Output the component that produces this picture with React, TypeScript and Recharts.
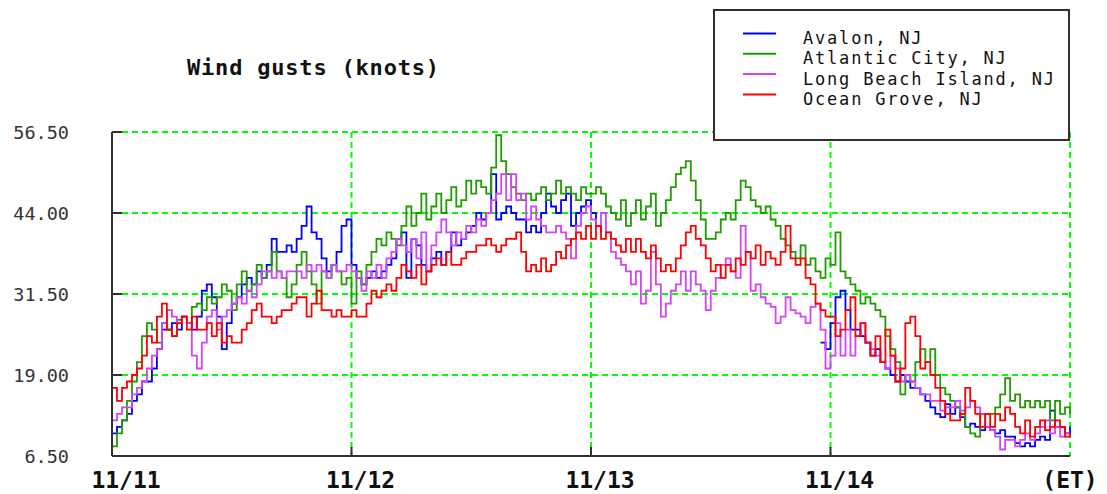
import { LineChart, Line, XAxis, YAxis, CartesianGrid, Legend } from 'recharts'

// half-hourly gusts, 11/11 00:00 -> 11/15 00:00 (ET)
const STEP_HOURS = 0.5

const avalon = [
  10, 11, 12, 13, 15, 16, 18, 18, 20, 23, 26, 26,
  27, 26, 28, 27, 26, 28, 32, 33, 31, 28, 23, 27,
  30, 31, 33, 34, 33, 35, 34, 36, 40, 38, 38, 39,
  38, 40, 42, 45, 41, 40, 37, 35, 36, 38, 42, 43,
  36, 34, 33, 34, 35, 34, 35, 36, 37, 40, 41, 34,
  40, 39, 36, 35, 37, 38, 36, 38, 41, 39, 40, 41,
  42, 44, 43, 44, 50, 43, 44, 45, 44, 43, 43, 41,
  42, 41, 44, 47, 45, 44, 46, 47, 42, 44, 45, 46,
  44, 42, 41, null, null, null, null, null, null, null, null, null,
  null, null, null, null, null, null, null, null, null, null, null, null,
  null, null, null, null, null, null, null, null, null, null, null, null,
  null, null, null, null, null, null, null, null, null, null, 24, 23,
  27, 31, 32, 29, 26, 26, 25, 24, 22, 23, 21, 20,
  19, 18, 19, 18, 17, 17, 16, 15, 14, 13, 12.5, 14.5,
  13, 14, 12.5, 11, 11.5, 11, 10.5, 11, 10.5, 10, 10.5, 9.5,
  9.5, 8.5, 8, 8.5, 8, 9, 9.5, 9, 13.5, 11, 11, 10,
  11,
]

const atlanticCity = [
  8, 10, 12, 15, 18, 21, 25, 27, 26, 24, 27, 26,
  25, 27.5, 28, 27, 29.5, 30, 29, 31, 30, 31, 33, 32,
  29, 33, 35, 32, 33, 36, 34, 35, 38, 35, 34, 31,
  33, 36, 38, 35, 33, 30, 35, 34, 36, 35, 33, 34,
  30, 35, 33, 36, 38, 40, 39, 41, 40, 39, 42, 45,
  42, 44, 47, 43, 45, 47, 44, 46, 48, 45, 46, 49,
  47, 49, 48, 47, 51, 56, 52, 50, 48, 47, 46, 47,
  46, 47, 48, 46, 47, 49, 47, 48, 47, 46, 48, 47,
  47, 48, 47, 45, 44, 43, 46, 42, 44, 46, 43, 45,
  47, 42, 44, 46, 48, 50, 51, 52, 49, 46, 43, 40,
  40, 41, 43, 44, 43, 46, 49, 48, 46, 45, 44, 45,
  43, 42, 40, 39, 38, 37, 39, 36, 37, 35, 34, 37,
  36, 41, 35, 34, 33, 32, 30, 31, 30, 29, 28, 25,
  23, 21, 16, 19, 18, 21, 23, 21, 23, 19, 17, 16,
  15, 14, 13, 11, 10, 9.5, 13, 13, 13, 14, 16, 18.5,
  15, 16, 14, 15, 14, 15, 14, 15, 12, 15, 13, 14,
  13,
]

const longBeachIsland = [
  12, 13, 14, 14, 16, 17, 18, 20, 22, 23, 27, 29,
  28, 27, 28, 27, 22, 20, 24, 28, 29, 26, 28, 29,
  30, 31, 30, 32, 31, 33, 35, 35, 34, 35, 34, 35,
  35, 35, 34, 36, 35, 36, 35, 34, 36, 35, 35, 36,
  35, 34, 32, 35, 34, 36, 34, 37, 38, 40, 39, 38,
  40, 37, 41, 35, 39, 41, 43, 41, 39, 41, 40, 42,
  41, 43, 42, 44, 46, 47, 50, 46, 50, 46, 47, 43,
  45, 43, 42, 41, 41, 42, 41, 40, 37, 42, 44, 45,
  43, 42, 44, 41, 38, 37, 36, 35, 33, 35, 30, 32,
  38, 33, 28, 30, 32, 33, 35, 32, 35, 33, 32, 29,
  32, 34, 36, 37, 35, 34, 42, 38, 32, 33, 31, 30,
  29.5, 27, 28, 31, 29, 28.5, 28, 27, 29.5, 30, 26, 20,
  22, 27, 22, 26, 22, 25, 27, 24, 23, 22, 21, 20,
  22, 20, 18, 19, 18, 17, 16, 16, 15, 15, 13.5, 14,
  14, 15, 13.5, 14, 15, 14, 13, 11, 10.5, 9.5, 7.5, 9,
  9, 8, 9, 10, 9, 10, 11, 12, 10, 11, 9.5, 10,
  10,
]

const oceanGrove = [
  17, 15, 17, 18, 19, 20, 22, 25, 24, 28, 30, 26,
  25, 27, 28, 26, 28, 26, 26, 27, 25, 27, 24, 25,
  24, 24, 26, 27, 29, 30, 28, 28, 27, 28, 29, 29,
  30, 31, 31, 28, 30, 32, 29, 29, 28, 29, 28, 28,
  29, 28, 28, 30, 32, 31, 32, 33, 32, 34, 36, 35,
  34, 36, 33, 35, 36, 37, 36, 38, 36, 36, 37, 38,
  38, 39, 39, 40, 39, 38, 39, 40, 40, 41, 38, 35,
  36, 35, 37, 35, 36, 38, 37, 39, 40, 41, 40, 42,
  40, 42, 40, 41, 40, 39, 38, 40, 38, 40, 38, 37,
  39, 37, 35, 36, 35, 37, 39, 41, 42, 40, 39, 37,
  35, 36, 34, 36, 35, 37, 36, 38, 37, 39, 36, 38,
  37, 36, 38, 42, 37, 36, 37, 34, 33, 30, 29, 28,
  28, 25, 26, 29, 31, 25, 27, 24, 22, 25, 21, 26,
  22, 18, 20, 27, 28, 25, 20, 21, 19, 17, 15, 13,
  12, 12, 13, 17, 15, 13, 11, 13, 11, 13, 12, 14,
  13, 11, 10, 12, 9.5, 11, 12, 10.5, 11, 12, 11, 9.5,
  10,
]

const xTicks = [0, 24, 48, 72, 96]
const xTickLabels = ['11/11', '11/12', '11/13', '11/14', '(ET)']
const yTicks = [6.5, 19, 31.5, 44, 56.5]

const series = [
  { key: 'avalon', name: 'Avalon, NJ', color: '#0000ff' },
  { key: 'atlantic', name: 'Atlantic City, NJ', color: '#1f9c00' },
  { key: 'lbi', name: 'Long Beach Island, NJ', color: '#d443f5' },
  { key: 'ocean', name: 'Ocean Grove, NJ', color: '#ff0000' },
]

const data = atlanticCity.map((_, i) => ({
  t: i * STEP_HOURS,
  avalon: avalon[i],
  atlantic: atlanticCity[i],
  lbi: longBeachIsland[i],
  ocean: oceanGrove[i],
}))

const MONO = '"DejaVu Sans Mono", monospace'
const AXIS = '#303030'

function YTick({ x, y, payload }: any) {
  return (
    <g>
      <line x1={x} x2={x + 10} y1={y} y2={y} stroke={AXIS} strokeWidth={2} />
      <text x={x - 43} y={y + 6.5} textAnchor="end" fontFamily={MONO} fontSize={18.5} fill="#333">
        {Number(payload.value).toFixed(2)}
      </text>
    </g>
  )
}

function XTick({ x, y, payload, index }: any) {
  const dx = index === 0 ? 14 : index === 4 ? 0 : 9
  return (
    <g>
      {index > 0 && index < 4 && (
        <line x1={x} x2={x} y1={y - 9} y2={y} stroke={AXIS} strokeWidth={2} />
      )}
      <text x={x + dx} y={y + 32} textAnchor="middle" fontFamily={MONO} fontWeight="bold" fontSize={23} fill="#111">
        {xTickLabels[xTicks.indexOf(payload.value)]}
      </text>
    </g>
  )
}

function LegendBox() {
  return (
    <svg width={357} height={132} style={{ display: 'block' }}>
      <rect x={1} y={1} width={355} height={130} fill="#fff" stroke={AXIS} strokeWidth={2} />
      {series.map((s, i) => (
        <g key={s.key}>
          <line x1={30} x2={63} y1={24.5 + i * 20.3} y2={24.5 + i * 20.3} stroke={s.color} strokeWidth={2} />
          <text x={90} y={35 + i * 20.3} fontFamily={MONO} fontSize={17} letterSpacing={1.8} fill="#111">
            {s.name}
          </text>
        </g>
      ))}
    </svg>
  )
}

export default function App() {
  return (
    <div style={{ position: 'relative', width: 1107, height: 494, background: '#fff' }}>
      <style>{'body{margin:0}'}</style>
      <div
        style={{
          position: 'absolute', left: 187, top: 57, fontFamily: MONO, fontWeight: 'bold',
          fontSize: 22, letterSpacing: 0.8, lineHeight: '22px', color: '#111', whiteSpace: 'pre',
        }}
      >
        Wind gusts (knots)
      </div>
      <LineChart width={1107} height={494} data={data} margin={{ top: 132, right: 37, bottom: 0, left: 0 }}>
        <CartesianGrid stroke="#00ff00" strokeWidth={2} strokeDasharray="6 4" />
        <XAxis
          dataKey="t"
          type="number"
          domain={[0, 96]}
          ticks={xTicks}
          height={38}
          interval={0}
          tickSize={0}
          tickMargin={0}
          tickLine={false}
          axisLine={{ stroke: AXIS, strokeWidth: 2 }}
          tick={<XTick />}
        />
        <YAxis
          type="number"
          domain={[6.5, 56.5]}
          ticks={yTicks}
          width={112}
          interval={0}
          tickSize={0}
          tickMargin={0}
          tickLine={false}
          axisLine={{ stroke: AXIS, strokeWidth: 2 }}
          tick={<YTick />}
        />
        {series.map((s) => (
          <Line
            key={s.key}
            dataKey={s.key}
            name={s.name}
            type="stepAfter"
            stroke={s.color}
            strokeWidth={1.8}
            dot={false}
            activeDot={false}
            connectNulls={false}
            isAnimationActive={false}
          />
        ))}
        <Legend
          layout="horizontal"
          verticalAlign="middle"
          align="center"
          wrapperStyle={{ position: 'absolute', left: 713, top: 9, width: 357, height: 132 }}
          content={() => <LegendBox />}
        />
      </LineChart>
    </div>
  )
}
